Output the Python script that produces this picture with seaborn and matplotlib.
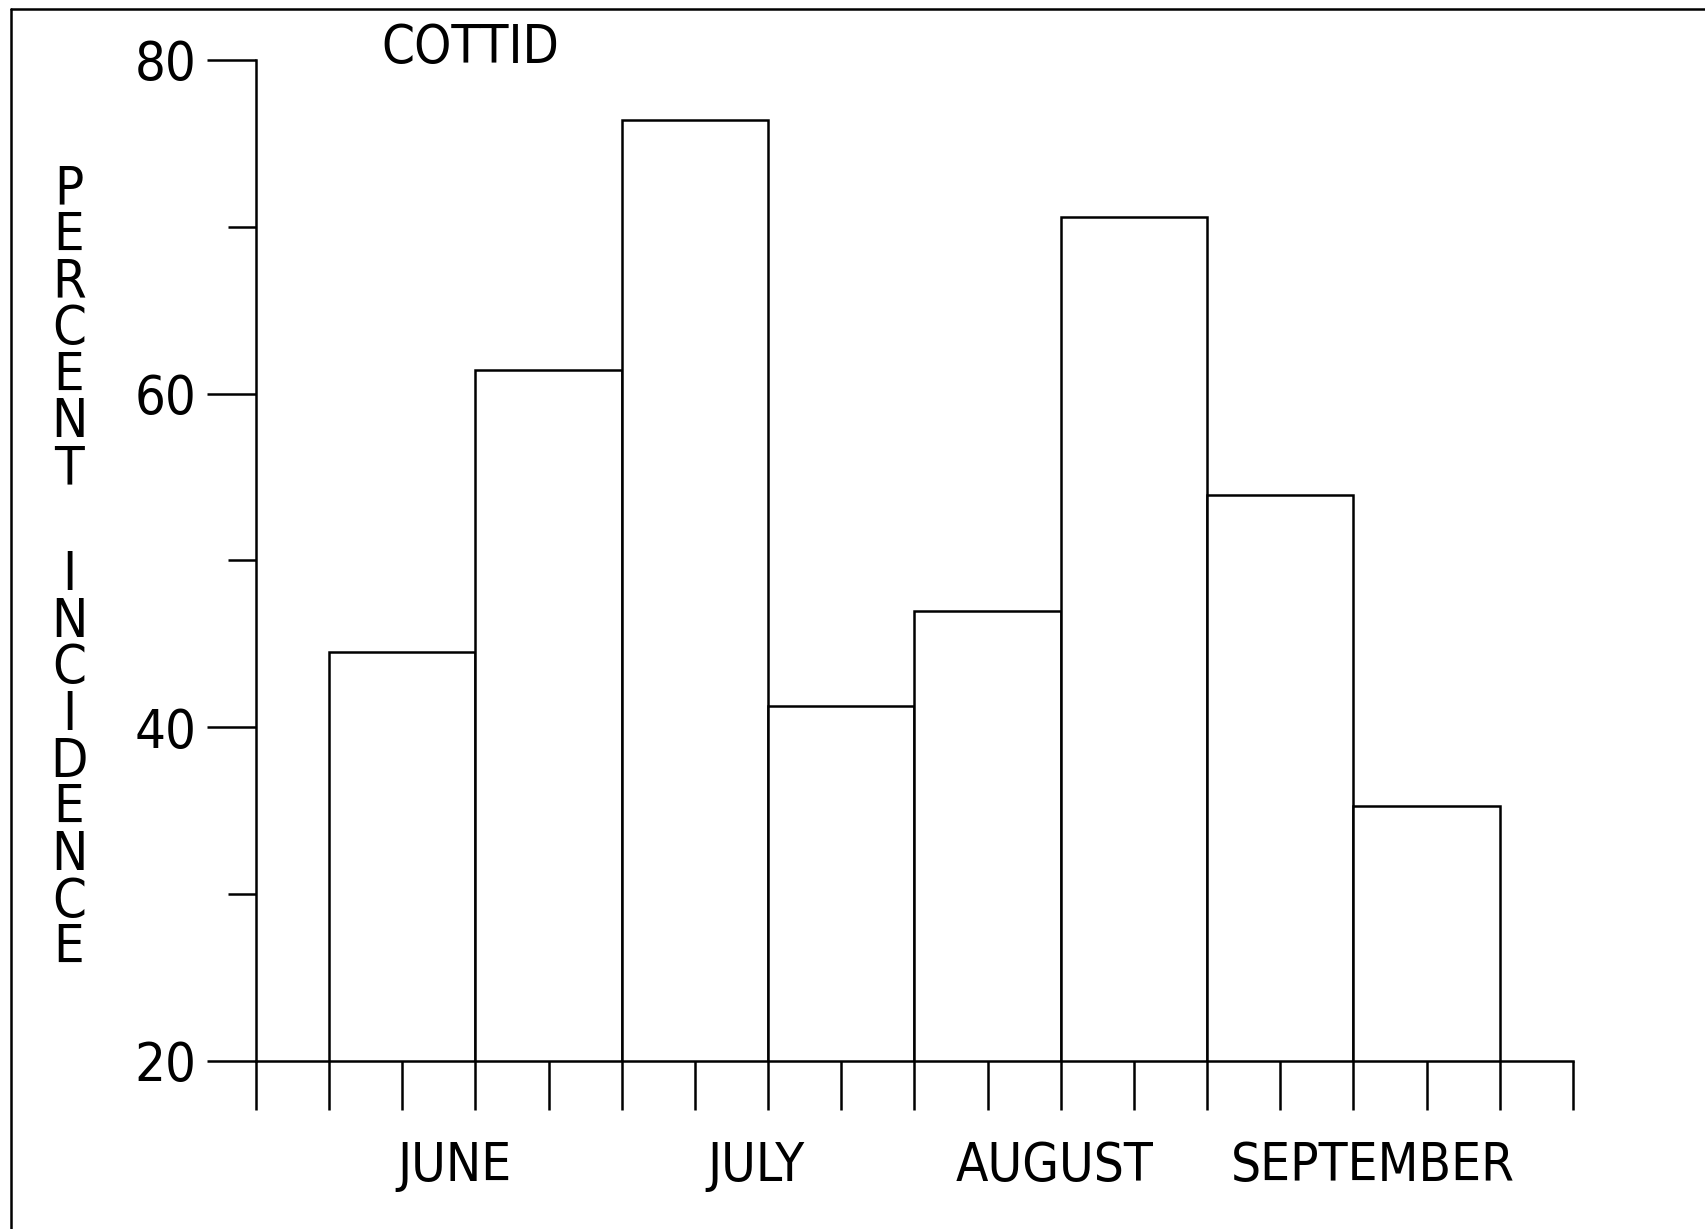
import matplotlib
matplotlib.use("Agg")
import matplotlib.pyplot as plt
import seaborn as sns
import pandas as pd
from matplotlib.lines import Line2D
from matplotlib.ticker import MultipleLocator, FixedLocator

# Datos (porcentaje de incidencia por quincena)
periodos = ["JUN-1", "JUN-2", "JUL-1", "JUL-2", "AUG-1", "AUG-2", "SEP-1", "SEP-2"]
incidencia = [44.5, 61.4, 76.4, 41.3, 47.0, 70.6, 53.9, 35.3]
meses = ["JUNE", "JULY", "AUGUST", "SEPTEMBER"]
pos_meses = [0.36, 2.42, 4.46, 6.63]
ticks_y = [20, 40, 60, 80]

sns.set_style("white")
plt.rcParams['font.family'] = ['DejaVu Sans']
plt.rcParams['font.stretch'] = 'condensed'
plt.rcParams['text.color'] = 'black'
plt.rcParams['xtick.color'] = 'black'
plt.rcParams['ytick.color'] = 'black'
plt.rcParams['xtick.labelcolor'] = 'black'
plt.rcParams['ytick.labelcolor'] = 'black'

df = pd.DataFrame({"periodo": periodos, "incidencia": incidencia})

fig = plt.figure(figsize=(17.06, 12.29), dpi=100)
ax = fig.add_axes([0.150, 0.1367, 0.772, 0.8145])

sns.barplot(data=df, x="periodo", y="incidencia", order=periodos, width=1.0,
            color="white", edgecolor="black", linewidth=1.8, ax=ax)

ax.set_xlim(-1, 8)
ax.set_ylim(20, 80)

# ejes estilo plotter
for lado in ["top", "right"]:
    ax.spines[lado].set_visible(False)
for lado in ["left", "bottom"]:
    ax.spines[lado].set_linewidth(1.8)
    ax.spines[lado].set_color("black")

ax.xaxis.set_major_locator(FixedLocator([i * 0.5 - 1 for i in range(19)]))
ax.set_xticklabels([])
ax.tick_params(axis="x", direction="out", length=35, width=1.8, color="black",
               bottom=True)

ax.yaxis.set_major_locator(FixedLocator(ticks_y))
ax.yaxis.set_minor_locator(MultipleLocator(10))
ax.set_yticklabels([str(t) for t in ticks_y])
ax.tick_params(axis="y", which="major", direction="out", length=35, width=1.8,
               pad=8, labelsize=39, color="black", left=True)
ax.tick_params(axis="y", which="minor", direction="out", length=20, width=1.8,
               color="black", left=True)

ax.set_xlabel("")
ax.set_ylabel("")

# etiquetas de los meses
for mes, px in zip(meses, pos_meses):
    ax.text(px, -0.105, mes, transform=ax.get_xaxis_transform(),
            ha="center", va="center", fontsize=38)

# titulo y etiqueta vertical con letras apiladas
fig.text(381 / 1706, 1 - 48 / 1229, "COTTID", ha="left", va="center", fontsize=38)
fig.text(69 / 1706, 1 - 163 / 1229, "\n".join("PERCENT"), ha="center", va="top",
         fontsize=39, linespacing=0.87)
fig.text(69 / 1706, 1 - 549 / 1229, "\n".join("INCIDENCE"), ha="center", va="top",
         fontsize=39, linespacing=0.87)

# marco de la pagina escaneada
fig.add_artist(Line2D([11 / 1706, 11 / 1706], [0, 1 - 9 / 1229], color="black", lw=1.8))
fig.add_artist(Line2D([11 / 1706, 1], [1 - 9 / 1229, 1 - 9 / 1229], color="black", lw=1.8))

fig.savefig("out.png", dpi=100, facecolor="white")
